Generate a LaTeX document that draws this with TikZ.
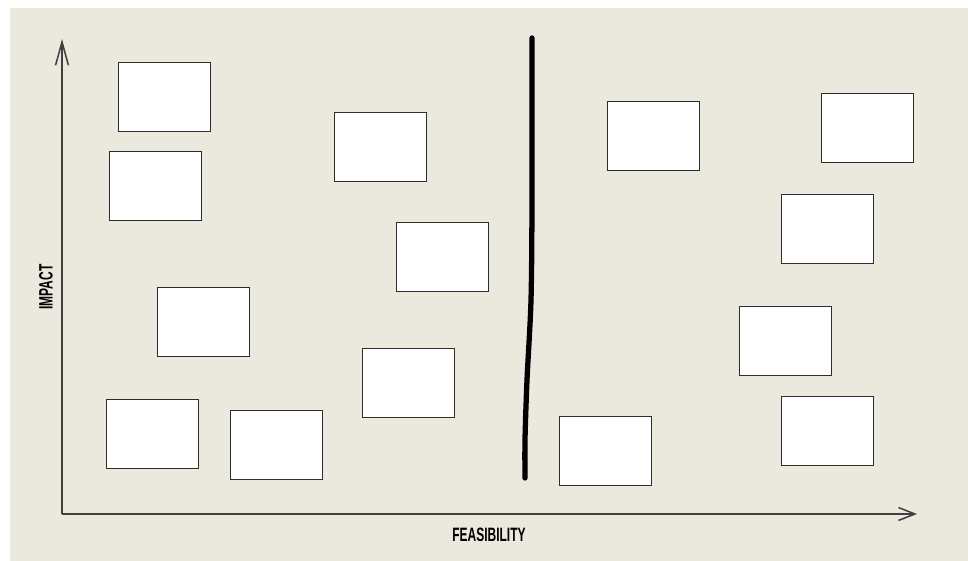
\documentclass[tikz,border=0pt]{standalone}
\usepackage{fontspec}
\newfontfamily\axisfont[FakeStretch=0.62]{Liberation Sans}
\usepackage{tikz}
\usetikzlibrary{arrows.meta,positioning}
\definecolor{paper}{RGB}{235,232,221}
\definecolor{cardline}{RGB}{45,45,45}

\begin{document}
\begin{tikzpicture}[x=0.03cm,y=-0.03cm,
		card/.style={draw=cardline,fill=white,line width=0.8pt,minimum width=2.76cm,minimum height=2.07cm,inner sep=0pt},
		axis/.style={line width=1.5pt,draw=black!75},
		axislabel/.style={font=\axisfont\bfseries\fontsize{16.5}{19}\selectfont,inner sep=0pt},
		divider/.style={line width=4.5pt,line cap=round,line join=round}]
			\useasboundingbox (0,0) rectangle (968,561);
			\fill[paper] (10,8) rectangle (968,561);

			% ---------------- Axes ----------------
			\coordinate (O) at (62,514);
			\coordinate (Ytip) at (62,39);
			\coordinate (Xtip) at (917,514);
			\draw[axis,-{Straight Barb[length=20pt,width=11pt,line width=1.3pt]}] (O) -- (Ytip);
			\draw[axis,-{Straight Barb[length=14pt,width=11pt,line width=1.3pt]}] (O) -- (Xtip);
			\node[axislabel,rotate=90] (impact) at (46,287) {IMPACT};
			\node[axislabel] (feasibility) at (489,535) {FEASIBILITY};

			% ---------------- Divider ----------------
			\draw[divider] plot[smooth] coordinates {(532,38) (532,200) (531,300) (527,380) (525,440) (525,478)};

			% ---------------- Left (feasible side) ----------------
			\node[card] (L1) at (164,96.5) {};
			\node[card] (L2) at (155,186.2) {};
			\node[card] (L3) at (203,321.5) {};
			\node[card] (L4) at (152,433.5) {};
			\node[card] (L5) at (276,444.5) {};
			\node[card] (M1) at (380,146.5) {};
			\node[card] (M2) at (442,256.5) {};
			\node[card] (M3) at (408,382.5) {};

			% ---------------- Right ----------------
			\node[card] (R1) at (653,135.5) {};
			\node[card] (R2) at (867,127.5) {};
			\node[card] (R3) at (827,228.5) {};
			\node[card] (R4) at (785,340.5) {};
			\node[card] (R5) at (827,430.5) {};
			\node[card] (R6) at (605,450.5) {};
		\end{tikzpicture}
\end{document}
